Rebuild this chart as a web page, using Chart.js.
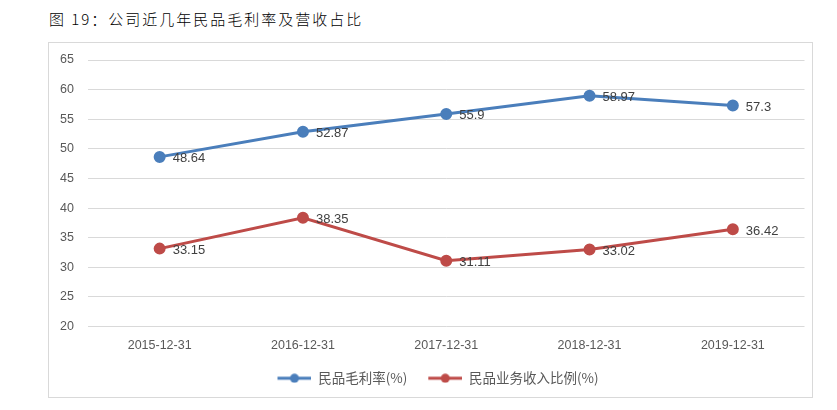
<!DOCTYPE html>
<html><head><meta charset="utf-8">
<script src="https://cdn.jsdelivr.net/npm/chart.js@4/dist/chart.umd.min.js"></script>
<style>
html,body{margin:0;padding:0;background:#fff;width:837px;height:410px;overflow:hidden;}
#title{position:absolute;left:49px;top:8px;font-family:"Noto Sans CJK SC";font-weight:300;font-size:15px;color:#000;letter-spacing:2px;}
#box{position:absolute;left:48px;top:42px;width:765px;height:356px;border:1px solid #d9d9d9;box-sizing:border-box;}
#c{position:absolute;left:0;top:0;}
</style></head><body>
<div id="title">图 19：公司近几年民品毛利率及营收占比</div>
<div id="box"><canvas id="c" width="763" height="354"></canvas></div>
<script>
const categories = ["2015-12-31","2016-12-31","2017-12-31","2018-12-31","2019-12-31"];
const grossMargin = [48.64, 52.87, 55.9, 58.97, 57.3];
const revenueShare = [33.15, 38.35, 31.11, 33.02, 36.42];
const seriesNames = ["民品毛利率(%)", "民品业务收入比例(%)"];
const yTicks = [20,25,30,35,40,45,50,55,60,65];
const blue = "#4A7EBB", red = "#BE4B48";

function legendIcon(color){
  const cv = document.createElement('canvas'); cv.width = 41; cv.height = 10;
  const g = cv.getContext('2d');
  g.strokeStyle = color; g.lineWidth = 3; g.beginPath(); g.moveTo(7,5); g.lineTo(41,5); g.stroke();
  g.fillStyle = color; g.beginPath(); g.arc(24,5,4.5,0,Math.PI*2); g.fill();
  return cv;
}
const icons = [legendIcon(blue), legendIcon(red)];

const labelPlugin = {
  id:'labels',
  afterLayout(chart){
    if (chart.legend) { chart.legend.left += 4; chart.legend.right += 4; }
  },
  afterDatasetsDraw(chart){
    const ctx = chart.ctx;
    ctx.save();
    ctx.font = '13px "Liberation Sans", "DejaVu Sans"';
    ctx.fillStyle = '#404040';
    ctx.textAlign = 'left'; ctx.textBaseline = 'middle';
    chart.data.datasets.forEach((ds,i)=>{
      chart.getDatasetMeta(i).data.forEach((pt,j)=>{
        ctx.fillText(String(ds.data[j]), pt.x + 13, pt.y + 2);
      });
    });
    ctx.restore();
  }
};

new Chart(document.getElementById('c'), {
  type:'line',
  data:{
    labels: categories,
    datasets:[
      {label: seriesNames[0], data: grossMargin, borderColor: blue, backgroundColor: blue, borderWidth: 3, pointRadius: 4.5, pointHoverRadius: 4.5, tension: 0, pointStyle:'circle'},
      {label: seriesNames[1], data: revenueShare, borderColor: red, backgroundColor: red, borderWidth: 3, pointRadius: 4.5, pointHoverRadius: 4.5, tension: 0, pointStyle:'circle'}
    ]
  },
  options:{
    responsive:false, animation:false,
    layout:{padding:{top:17,right:0,left:0,bottom:2}},
    plugins:{
      legend:{position:'bottom', labels:{
        usePointStyle:true, pointStyleWidth:41, boxHeight:10, color:'#595959', font:{family:'"Noto Sans CJK SC"', size:13.5}, padding:14,
        generateLabels(chart){
          const items = Chart.defaults.plugins.legend.labels.generateLabels(chart);
          items.forEach((it,i)=>{ it.pointStyle = icons[i]; });
          return items;
        }
      }},
      tooltip:{enabled:false}
    },
    scales:{
      x:{
        offset:true,
        grid:{display:false},
        border:{display:false},
        ticks:{color:'#595959', font:{family:'"Liberation Sans"', size:12.5}, padding:4, maxRotation:0}
      },
      y:{
        min:20, max:65,
        afterBuildTicks(s){ s.ticks = yTicks.map(v=>({value:v})); },
        afterFit(s){ s.width = 39; },
        grid:{color:'#d9d9d9', lineWidth:1, drawTicks:true, tickLength:12, tickColor:'rgba(0,0,0,0)'},
        border:{display:false},
        ticks:{color:'#595959', font:{family:'"Liberation Sans"', size:12.5}, padding:2}
      }
    }
  },
  plugins:[labelPlugin]
});
</script>
</body></html>
